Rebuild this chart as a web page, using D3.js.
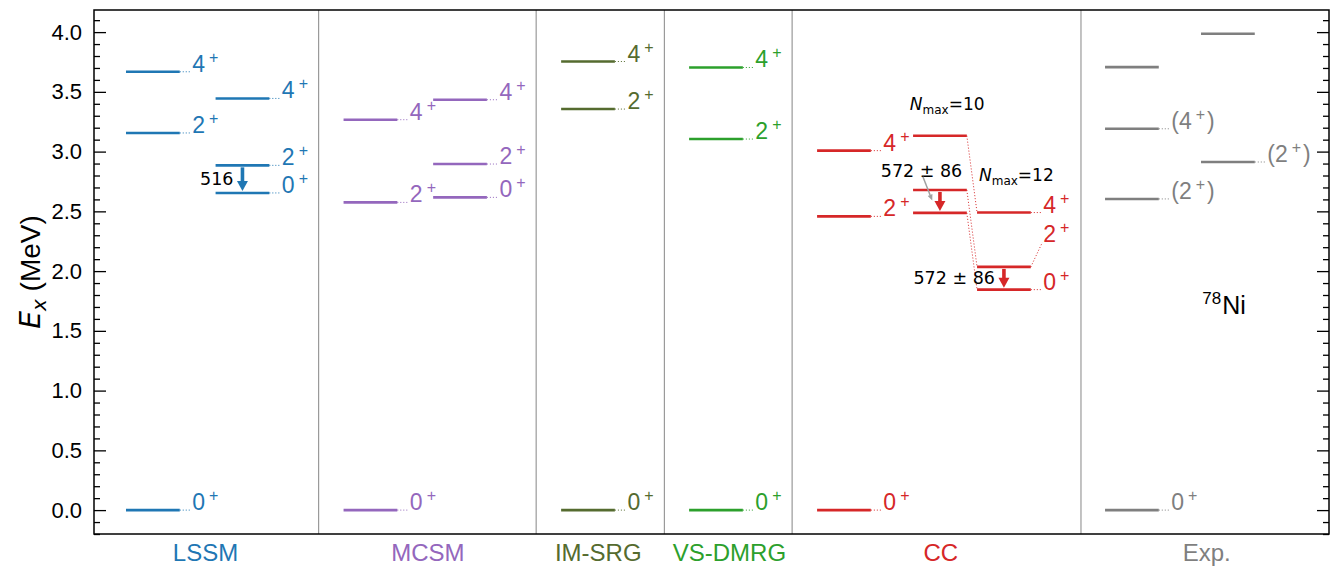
<!DOCTYPE html>
<html>
<head>
<meta charset="utf-8">
<script src="https://cdn.jsdelivr.net/npm/d3@7"></script>
<style>
  body { margin: 0; background: #fff; }
  svg { display: block; }
</style>
</head>
<body>
<svg id="chart" width="1335" height="566"></svg>
<script>
// ---- data -------------------------------------------------------------
const categories = ["LSSM", "MCSM", "IM-SRG", "VS-DMRG", "CC", "Exp."];
const categoryColors = ["#1f77b4", "#9467bd", "#556b2f", "#2ca02c", "#d62728", "#7f7f7f"];
const yTickValues = [0.0, 0.5, 1.0, 1.5, 2.0, 2.5, 3.0, 3.5, 4.0];

// excitation energies (MeV) and spin-parity labels, one array per level column
const lssmLeftE = [3.668, 3.156, 0.0],      lssmLeftJ = ["4+", "2+", "0+"];
const lssmRightE = [3.445, 2.885, 2.654],   lssmRightJ = ["4+", "2+", "0+"];
const mcsmLeftE = [3.267, 2.575, 0.0],      mcsmLeftJ = ["4+", "2+", "0+"];
const mcsmRightE = [3.434, 2.896, 2.617],   mcsmRightJ = ["4+", "2+", "0+"];
const imsrgE = [3.754, 3.356, 0.0],         imsrgJ = ["4+", "2+", "0+"];
const vsdmrgE = [3.704, 3.105, 0.0],        vsdmrgJ = ["4+", "2+", "0+"];
const ccE = [3.008, 2.458, 0.0],            ccJ = ["4+", "2+", "0+"];
const ccNmax10E = [3.133, 2.679, 2.487],    ccNmax10J = ["", "", ""];
const ccNmax12E = [2.490, 2.035, 1.845],    ccNmax12J = ["4+", "2+", "0+"];
const expLeftE = [3.707, 3.191, 2.604, 0.0], expLeftJ = ["", "(4+)", "(2+)", "0+"];
const expRightE = [3.986, 2.913],           expRightJ = ["", "(2+)"];

// ---- layout (x in axis units) -----------------------------------------
const xDomain = [0, 9.65];
const yDomain = [-0.2, 4.185];
const levelWidth = 0.42;
const connectorLength = 0.09;
const categoryTickPos = [0.871, 2.609, 3.94, 4.965, 6.617, 8.695];
const separatorPos = [1.755, 3.455, 4.457, 5.455, 7.712];

const columns = [
  { cat: 0, slot: 0.25, E: lssmLeftE,  J: lssmLeftJ },
  { cat: 0, slot: 0.95, E: lssmRightE, J: lssmRightJ },
  { cat: 1, slot: 1.95, E: mcsmLeftE,  J: mcsmLeftJ },
  { cat: 1, slot: 2.65, E: mcsmRightE, J: mcsmRightJ },
  { cat: 2, slot: 3.65, E: imsrgE,     J: imsrgJ },
  { cat: 3, slot: 4.65, E: vsdmrgE,    J: vsdmrgJ },
  { cat: 4, slot: 5.65, E: ccE,        J: ccJ },
  { cat: 4, slot: 6.40, E: ccNmax10E,  J: ccNmax10J },
  { cat: 4, slot: 6.90, E: ccNmax12E,  J: ccNmax12J },
  { cat: 5, slot: 7.90, E: expLeftE,   J: expLeftJ },
  { cat: 5, slot: 8.65, E: expRightE,  J: expRightJ }
];
// label lifted off its level to avoid overlap: [column, level, label energy]
const liftedLabels = [[8, 1, 2.24]];

// transition arrows: [column, upper level, lower level, text]
const transitions = [
  [1, 1, 2, "516"],
  [7, 1, 2, "572 \u00b1 86"],
  [8, 1, 2, "572 \u00b1 86"]
];

// ---- scales -----------------------------------------------------------
const svg = d3.select("#chart");
const margin = { left: 94, right: 6, top: 10, bottom: 32 };
const W = 1335, H = 566;
const x = d3.scaleLinear().domain(xDomain).range([margin.left, W - margin.right]);
const y = d3.scaleLinear().domain(yDomain).range([H - margin.bottom, margin.top]);
const [x0, x1] = x.range();
const [yb, yt] = y.range();

const sansFont = "'Liberation Sans', Arial, Helvetica, sans-serif";
const mathFont = "'DejaVu Sans', sans-serif";

// ---- axes -------------------------------------------------------------
const minorTicks = d3.range(-2, 42).map(d => d / 10).filter(d => !yTickValues.some(t => Math.abs(t - d) < 1e-9));

function styleAxis(g) {
  g.select(".domain").remove();
  g.selectAll(".tick line").attr("stroke", "#000").attr("stroke-width", 1.3);
}

svg.append("g").attr("transform", `translate(${x0},0)`)
  .call(d3.axisLeft(y).tickValues(yTickValues).tickSize(-12).tickPadding(12).tickFormat(d3.format(".1f")))
  .call(styleAxis)
  .call(g => g.selectAll(".tick text").attr("font-family", sansFont).attr("font-size", 22).attr("fill", "#000"));
svg.append("g").attr("transform", `translate(${x0},0)`)
  .call(d3.axisLeft(y).tickValues(minorTicks).tickSize(-6).tickFormat(""))
  .call(styleAxis);
svg.append("g").attr("transform", `translate(${x1},0)`)
  .call(d3.axisRight(y).tickValues(yTickValues).tickSize(-12).tickFormat(""))
  .call(styleAxis);
svg.append("g").attr("transform", `translate(${x1},0)`)
  .call(d3.axisRight(y).tickValues(minorTicks).tickSize(-6).tickFormat(""))
  .call(styleAxis);

// method separators
svg.append("g").selectAll("line").data(separatorPos).join("line")
  .attr("x1", d => x(d)).attr("x2", d => x(d))
  .attr("y1", yt).attr("y2", yb)
  .attr("stroke", "#9a9a9a").attr("stroke-width", 1.2);

// category labels
svg.append("g").selectAll("text").data(categories).join("text")
  .attr("x", (d, i) => x(categoryTickPos[i]))
  .attr("y", 561)
  .attr("text-anchor", "middle")
  .attr("font-family", sansFont).attr("font-size", 24)
  .attr("fill", (d, i) => categoryColors[i])
  .text(d => d);

// y-axis title
const yTitle = svg.append("text")
  .attr("transform", `translate(40,${(yt + yb) / 2}) rotate(-90)`)
  .attr("text-anchor", "middle")
  .attr("font-family", sansFont).attr("font-size", 28).attr("fill", "#000");
yTitle.append("tspan").attr("font-family", mathFont).attr("font-style", "italic").text("E");
yTitle.append("tspan").attr("font-family", mathFont).attr("font-style", "italic").attr("font-size", 20).attr("dy", 6).text("x");
yTitle.append("tspan").attr("dy", -6).text(" (MeV)");

// ---- levels -----------------------------------------------------------
function spinLabel(sel, label) {
  // "4+" -> 4 with raised +, parentheses kept at base size
  const parts = label.split("+");
  sel.append("tspan").text(parts[0]);
  if (parts.length > 1) {
    sel.append("tspan").attr("font-size", 16).attr("dx", 4).attr("dy", -9).text("+");
    if (parts[1]) sel.append("tspan").attr("dx", 2).attr("dy", 9).text(parts[1]);
  }
}

const levelLayer = svg.append("g");
columns.forEach((col, ci) => {
  const color = categoryColors[col.cat];
  const g = levelLayer.append("g");
  col.E.forEach((e, li) => {
    const xa = x(col.slot), xb = x(col.slot + levelWidth);
    g.append("line")
      .attr("x1", xa).attr("x2", xb).attr("y1", y(e)).attr("y2", y(e))
      .attr("stroke", color).attr("stroke-width", 2.6);
    const lab = col.J[li];
    if (!lab) return;
    const lift = liftedLabels.find(l => l[0] === ci && l[1] === li);
    const labE = lift ? lift[2] : e;
    const xl = x(col.slot + levelWidth + connectorLength);
    g.append("line")
      .attr("x1", xb).attr("x2", xl).attr("y1", y(e)).attr("y2", y(labE))
      .attr("stroke", color).attr("stroke-width", 1).attr("stroke-dasharray", "1,2");
    const t = g.append("text")
      .attr("x", xl + 1).attr("y", y(labE))
      .attr("font-family", sansFont).attr("font-size", 23)
      .attr("fill", color);
    spinLabel(t, lab);
  });
});

// correspondence between the two CC model spaces (Nmax = 10 -> 12)
const ccFrom = columns[7], ccTo = columns[8];
svg.append("g").selectAll("line").data(d3.range(ccFrom.E.length)).join("line")
  .attr("x1", x(ccFrom.slot + levelWidth)).attr("x2", x(ccTo.slot))
  .attr("y1", i => y(ccFrom.E[i])).attr("y2", i => y(ccTo.E[i]))
  .attr("stroke", categoryColors[4]).attr("stroke-width", 1).attr("stroke-dasharray", "1,2");

// ---- transition arrows -----------------------------------------------
function downArrow(g, xc, yFrom, yTo, color) {
  const headL = 10, headW = 5.5;
  g.append("line").attr("x1", xc).attr("x2", xc)
    .attr("y1", yFrom).attr("y2", yTo - headL + 1)
    .attr("stroke", color).attr("stroke-width", 3.6);
  g.append("path")
    .attr("d", `M${xc - headW},${yTo - headL} L${xc + headW},${yTo - headL} L${xc},${yTo} Z`)
    .attr("fill", color);
}

const arrowLayer = svg.append("g");
transitions.forEach(([ci, hi, lo, txt], k) => {
  const col = columns[ci];
  const color = categoryColors[col.cat];
  const xc = x(col.slot + levelWidth / 2);
  const yHi = y(col.E[hi]), yLo = y(col.E[lo]);
  downArrow(arrowLayer, xc, yHi + 2, yLo - 2, color);
  if (k === 1) {
    // value placed above the level pair with a grey pointer
    const tx = x(6.466), ty = y(2.84);
    arrowLayer.append("text")
      .attr("x", tx).attr("y", ty).attr("dy", "0.35em")
      .attr("text-anchor", "middle")
      .attr("font-family", mathFont).attr("font-size", 17.5).attr("fill", "#000")
      .text(txt);
    const px0 = x(6.477), py0 = y(2.79), px1 = x(6.55), py1 = y(2.59);
    const ang = Math.atan2(py1 - py0, px1 - px0);
    const hl = 6, hw = 2.5;
    const bx = px1 - hl * Math.cos(ang), by = py1 - hl * Math.sin(ang);
    arrowLayer.append("line")
      .attr("x1", px0).attr("y1", py0).attr("x2", bx).attr("y2", by)
      .attr("stroke", "#a0a0a0").attr("stroke-width", 1.5);
    arrowLayer.append("path")
      .attr("d", `M${px1},${py1} L${bx - hw * Math.sin(ang)},${by + hw * Math.cos(ang)} L${bx + hw * Math.sin(ang)},${by - hw * Math.cos(ang)} Z`)
      .attr("fill", "#a0a0a0");
  } else {
    arrowLayer.append("text")
      .attr("x", xc - 9).attr("y", (yHi + yLo) / 2).attr("dy", "0.35em")
      .attr("text-anchor", "end")
      .attr("font-family", mathFont).attr("font-size", 17.5).attr("fill", "#000")
      .text(txt);
  }
});

// model-space annotations
function nmaxLabel(xPos, e, val) {
  const t = svg.append("text").attr("x", x(xPos)).attr("y", y(e))
    .attr("font-family", mathFont).attr("font-size", 17).attr("fill", "#000");
  t.append("tspan").attr("font-style", "italic").text("N");
  t.append("tspan").attr("font-size", 12).attr("dy", 4).text("max");
  t.append("tspan").attr("dy", -4).text("=" + val);
}
nmaxLabel(6.375, 3.35, 10);
nmaxLabel(6.915, 2.75, 12);

// nucleus label
const nuc = svg.append("text").attr("x", x(8.66)).attr("y", y(1.64))
  .attr("font-family", sansFont).attr("font-size", 25).attr("fill", "#000");
nuc.append("tspan").attr("font-size", 17).attr("dy", -10).text("78");
nuc.append("tspan").attr("dx", 1).attr("dy", 10).text("Ni");

// frame
svg.append("rect")
  .attr("x", x0).attr("y", yt).attr("width", x1 - x0).attr("height", yb - yt)
  .attr("fill", "none").attr("stroke", "#000").attr("stroke-width", 1.5);
</script>
</body>
</html>
